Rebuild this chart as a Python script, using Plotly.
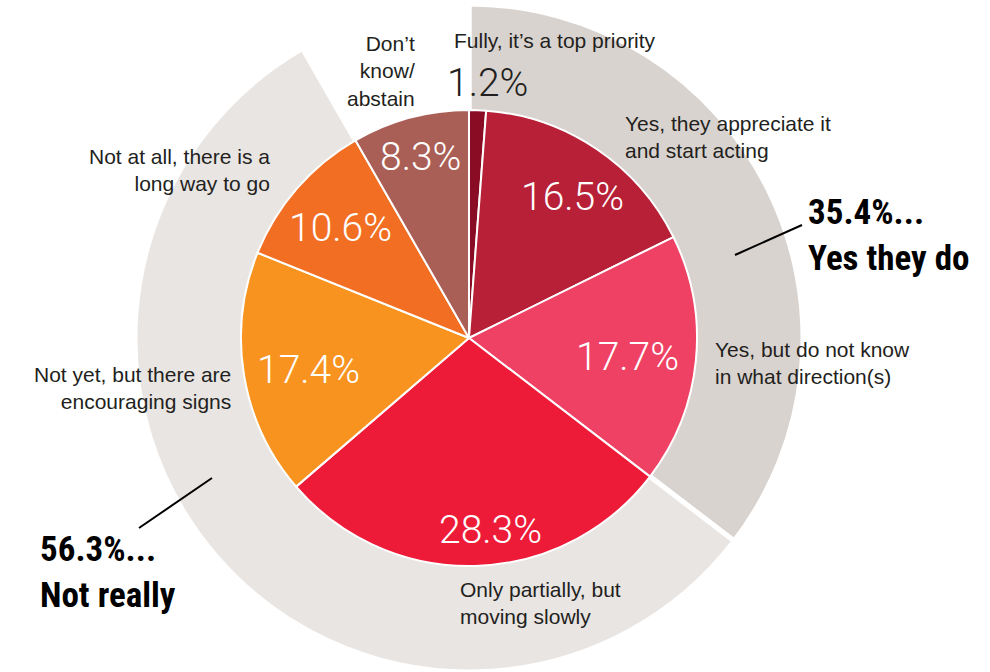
import plotly.graph_objects as go

# inner pie: answers, clockwise from 12 o'clock
answers = ["Fully, it's a top priority", "Yes, they appreciate it and start acting",
           "Yes, but do not know in what direction(s)", "Only partially, but moving slowly",
           "Not yet, but there are encouraging signs", "Not at all, there is a long way to go",
           "Don't know/abstain"]
shares = [1.2, 16.5, 17.7, 28.3, 17.4, 10.6, 8.3]
inner_colors = ["#8a0c24", "#b72036", "#ef4164", "#ed1b38", "#f7931e", "#f26e23", "#aa5f56"]

# outer ring: grouped answers (the last part is left empty)
groups = ["Yes they do", "Not really", ""]
group_shares = [35.4, 56.3, 8.3]
group_colors = ["#d9d3cf", "#e9e5e2", "rgba(0,0,0,0)"]

W, H = 990, 672
CX, CY = 469, 338
R_OUT, R_IN = 334, 228

TEXT = "#231f20"
SANS = "Liberation Sans, Arial, sans-serif"
LIGHT = "Roboto, Liberation Sans, sans-serif"
NARROW = "Noto Sans Condensed, Roboto Condensed, Liberation Sans Narrow, Liberation Sans, sans-serif"


def px(x):
    return x / W


def py(y):
    return 1 - y / H


fig = go.Figure()

# --- outer ring (drawn first, inner pie covers its middle) ---
fig.add_trace(go.Pie(
    labels=groups, values=group_shares, sort=False, direction="clockwise", rotation=0,
    marker=dict(colors=group_colors, line=dict(color="white", width=5)),
    textinfo="none", hoverinfo="skip",
    domain=dict(x=[px(CX - R_OUT), px(CX + R_OUT)], y=[py(CY + R_OUT), py(CY - R_OUT)]),
))

# --- inner pie ---
fig.add_trace(go.Pie(
    labels=answers, values=shares, sort=False, direction="clockwise", rotation=0,
    marker=dict(colors=inner_colors, line=dict(color="white", width=2)),
    textinfo="none", hoverinfo="label+value",
    domain=dict(x=[px(CX - R_IN), px(CX + R_IN)], y=[py(CY + R_IN), py(CY - R_IN)]),
))

annotations = []

# percentage label spots (text centres, px from top-left), one per slice
pct_spots = [(487, 83), (572, 197), (627, 357), (490, 530), (308, 370), (340, 228), (420, 157)]
for i, (v, (x, y)) in enumerate(zip(shares, pct_spots)):
    annotations.append(dict(x=px(x), y=py(y), text=f"{v}%", showarrow=False,
                            xanchor="center", yanchor="middle",
                            font=dict(family=LIGHT, size=39, weight=300,
                                      color=TEXT if i == 0 else "white")))

# answer texts
labels = [
    ("Fully, it’s a top priority", 452, 40, "left"),
    ("Yes, they appreciate it<br>and start acting", 623, 137, "left"),
    ("Yes, but do not know<br>in what direction(s)", 713, 363, "left"),
    ("Only partially, but<br>moving slowly", 458, 603, "left"),
    ("Not yet, but there are<br>encouraging signs", 233, 388, "right"),
    ("Not at all, there is a<br>long way to go", 272, 170, "right"),
    ("Don’t<br>know/<br>abstain", 417, 71, "right"),
]
for text, x, y, side in labels:
    annotations.append(dict(x=px(x), y=py(y), text=text, showarrow=False,
                            xanchor=side, yanchor="middle", align=side,
                            font=dict(family=SANS, size=21, color=TEXT)))

# group totals
annotations.append(dict(x=px(806), y=py(235), text=f"{group_shares[0]}%...<br>{groups[0]}",
                        showarrow=False, xanchor="left", yanchor="middle", align="left",
                        font=dict(family=NARROW, size=35, color="black", weight="bold")))
annotations.append(dict(x=px(38), y=py(572), text=f"{group_shares[1]}%...<br>{groups[1]}",
                        showarrow=False, xanchor="left", yanchor="middle", align="left",
                        font=dict(family=NARROW, size=35, color="black", weight="bold")))

shapes = [
    dict(type="line", xref="paper", yref="paper", x0=px(735), y0=py(255), x1=px(802), y1=py(225),
         line=dict(color="black", width=2)),
    dict(type="line", xref="paper", yref="paper", x0=px(139), y0=py(528), x1=px(212), y1=py(478),
         line=dict(color="black", width=2)),
]

fig.update_layout(
    width=W, height=H,
    margin=dict(l=0, r=0, t=0, b=0),
    paper_bgcolor="white", plot_bgcolor="white",
    showlegend=False,
    annotations=annotations,
    shapes=shapes,
)

# drop the browser's default page margin so the figure sits at the window corner
fig.write_html("out.html", config={"displayModeBar": False},
               post_script="document.body.style.margin = '0';")
